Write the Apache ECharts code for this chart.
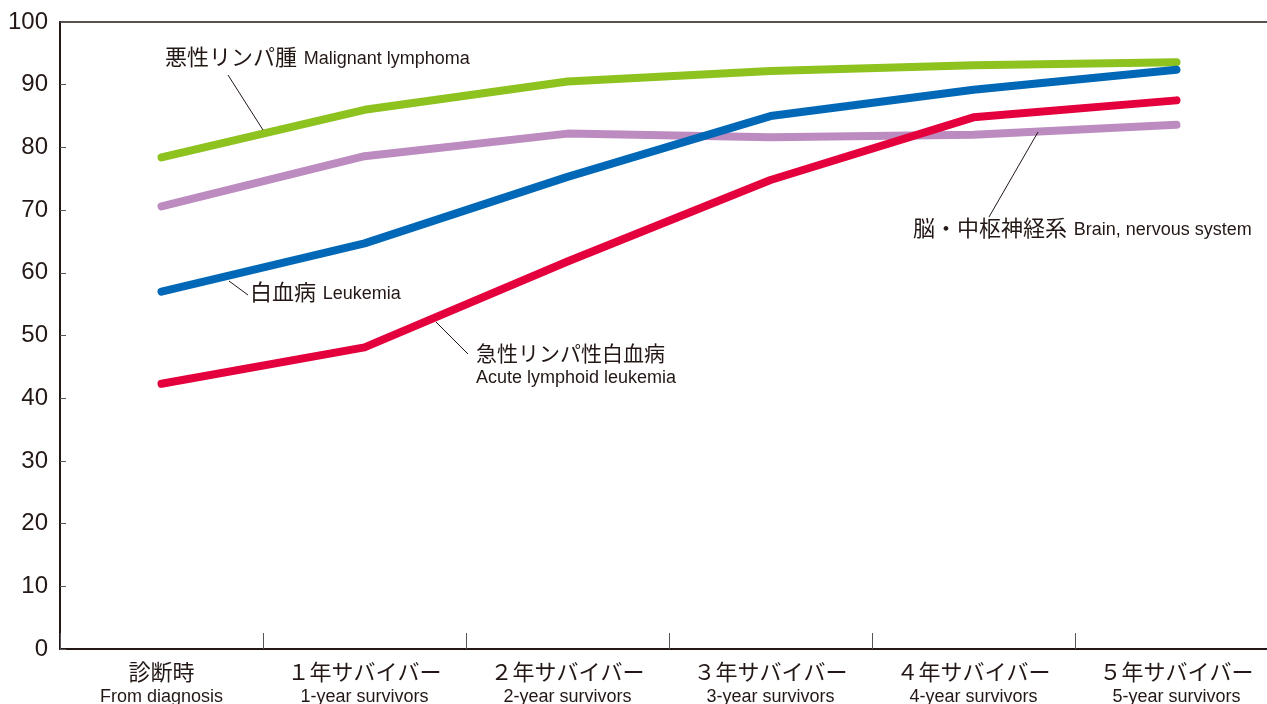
<!DOCTYPE html>
<html><head><meta charset="utf-8">
<script src="https://cdn.jsdelivr.net/npm/echarts@6/dist/echarts.min.js"></script>
<style>html,body{margin:0;padding:0;background:#fff}#c{width:1267px;height:704px}</style>
</head><body><div id="c"></div>
<script>
const categoriesJa = ['診断時','１年サバイバー','２年サバイバー','３年サバイバー','４年サバイバー','５年サバイバー'];
const categoriesEn = ['From diagnosis','1-year survivors','2-year survivors','3-year survivors','4-year survivors','5-year survivors'];
const malignantLymphoma = [78.4, 86.0, 90.5, 92.2, 93.1, 93.6];
const brainNervous = [70.6, 78.6, 82.2, 81.6, 82.0, 83.6];
const leukemia = [57.0, 64.7, 75.3, 85.0, 89.2, 92.4];
const acuteLymphoid = [42.3, 48.1, 61.8, 74.8, 84.8, 87.5];
const yTicks = [0,10,20,30,40,50,60,70,80,90,100];

const FONT = '"Liberation Sans","Noto Sans CJK JP",sans-serif';
const TXT = '#231815';
const chart = echarts.init(document.getElementById('c'), null, {renderer:'canvas'});
function ser(name, data, color){
  return {name, type:'line', data, symbol:'none', smooth:false, z: 3,
    lineStyle:{color, width:8, cap:'round', join:'round'}, itemStyle:{color}};
}
const richA = {fontSize:22,fontFamily:FONT,fill:TXT,lineHeight:26};
const richB = {fontSize:18,fontFamily:FONT,fill:TXT,lineHeight:26};
chart.setOption({
  animation:false,
  grid:{left:60, top:22, right:-11, bottom:55, containLabel:false, outerBoundsMode:'none', show:true, borderColor:TXT, borderWidth:1.5, backgroundColor:'transparent'},
  xAxis:{type:'category', data:categoriesJa.map((c,i)=>c+'\n'+categoriesEn[i]), boundaryGap:true,
    axisLine:{lineStyle:{color:TXT, width:2}},
    axisTick:{show:true, inside:true, length:16, lineStyle:{color:'#555', width:1}},
    axisLabel:{interval:0, margin:13, fontFamily:FONT, color:TXT,
      formatter:(v)=>{const p=v.split('\n');return '{ja|'+p[0]+'}\n{en|'+p[1]+'}';},
      rich:{ja:{fontSize:22, fontFamily:FONT, color:TXT, lineHeight:24},
            en:{fontSize:18, fontFamily:FONT, color:TXT, lineHeight:22}}}
  },
  yAxis:{type:'value', min:0, max:100, interval:10,
    axisLine:{show:true, lineStyle:{color:TXT, width:2}},
    axisTick:{show:true, inside:true, length:6, lineStyle:{color:'#555'}},
    splitLine:{show:false},
    axisLabel:{fontSize:24, fontFamily:FONT, color:TXT, margin:12,
      formatter:(v)=>yTicks.includes(v)?String(v):''}
  },
  series:[
    ser('悪性リンパ腫', malignantLymphoma, '#8dc21f'),
    ser('脳・中枢神経系', brainNervous, '#bc8bbf'),
    ser('白血病', leukemia, '#0068b6'),
    ser('急性リンパ性白血病', acuteLymphoid, '#e4003d')
  ],
  graphic:[
    {type:'text', left:165, top:48, style:{rich:{a:richA,b:richB}, text:'{a|悪性リンパ腫}  {b|Malignant lymphoma}', fill:TXT}},
    {type:'line', shape:{x1:228,y1:75,x2:263,y2:130}, style:{stroke:TXT, lineWidth:1}, z:10},
    {type:'text', left:250, top:283, style:{rich:{a:richA,b:richB}, text:'{a|白血病}  {b|Leukemia}', fill:TXT}},
    {type:'line', shape:{x1:229,y1:281,x2:248,y2:295}, style:{stroke:TXT, lineWidth:1}, z:10},
    {type:'text', left:476, top:345, style:{rich:{a:{fontSize:21,fontFamily:FONT,fill:TXT,lineHeight:24},b:{fontSize:18,fontFamily:FONT,fill:TXT,lineHeight:22}}, text:'{a|急性リンパ性白血病}\n{b|Acute lymphoid leukemia}', fill:TXT}},
    {type:'line', shape:{x1:436,y1:322,x2:468,y2:354}, style:{stroke:TXT, lineWidth:1}, z:10},
    {type:'text', left:913, top:219, style:{rich:{a:richA,b:richB}, text:'{a|脳・中枢神経系}  {b|Brain, nervous system}', fill:TXT}},
    {type:'line', shape:{x1:1038,y1:132,x2:989,y2:217}, style:{stroke:TXT, lineWidth:1}, z:10}
  ]
});
</script></body></html>
